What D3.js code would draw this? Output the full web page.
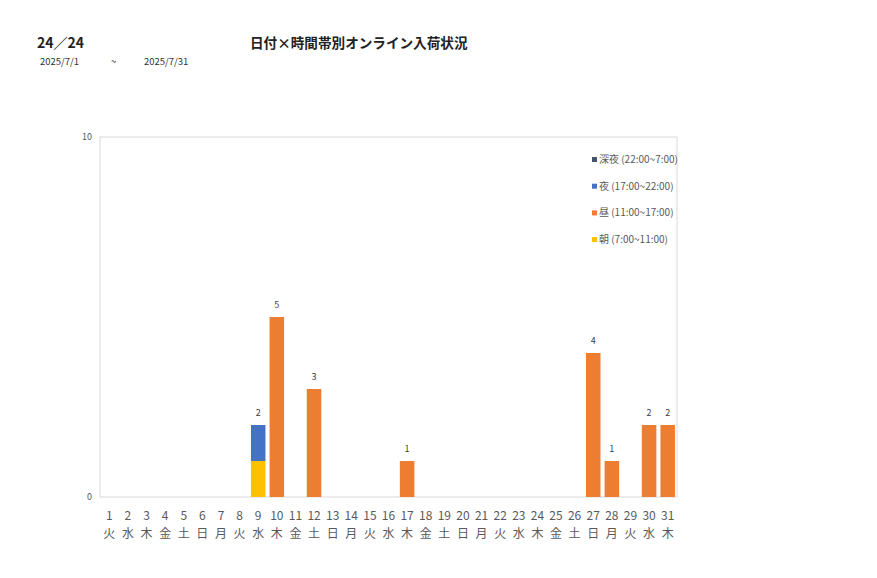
<!DOCTYPE html>
<html>
<head>
<meta charset="utf-8">
<script src="https://cdn.jsdelivr.net/npm/d3@7"></script>
<style>
  body { margin: 0; background: #fff; }
  svg { font-family: "Noto Sans CJK JP", "Noto Sans", sans-serif; }
</style>
</head>
<body>
<div id="chart"></div>
<script>
const width = 877;
const height = 578;

const days = d3.range(1, 32).map(String);
const weekdays = ["火","水","木","金","土","日","月","火","水","木","金","土","日","月","火","水","木","金","土","日","月","火","水","木","金","土","日","月","火","水","木"];

const seriesNames = ["朝", "昼", "夜", "深夜"];
const seriesLabels = ["朝 (7:00~11:00)", "昼 (11:00~17:00)", "夜 (17:00~22:00)", "深夜 (22:00~7:00)"];
const seriesColors = ["#FFC000", "#ED7D31", "#4472C4", "#44546A"];

// counts per day, one array per time slot
const morning = [0,0,0,0,0,0,0,0,1,0,0,0,0,0,0,0,0,0,0,0,0,0,0,0,0,0,0,0,0,0,0];
const daytime = [0,0,0,0,0,0,0,0,0,5,0,3,0,0,0,0,1,0,0,0,0,0,0,0,0,0,4,1,0,2,2];
const evening = [0,0,0,0,0,0,0,0,1,0,0,0,0,0,0,0,0,0,0,0,0,0,0,0,0,0,0,0,0,0,0];
const night   = [0,0,0,0,0,0,0,0,0,0,0,0,0,0,0,0,0,0,0,0,0,0,0,0,0,0,0,0,0,0,0];

const yTicks = [0, 10];

const table = days.map((d, i) => ({
  day: d, wd: weekdays[i],
  "朝": morning[i], "昼": daytime[i], "夜": evening[i], "深夜": night[i]
}));

const margin = { left: 100, right: 200, top: 137, bottom: 81 };

const x = d3.scaleBand()
    .domain(days)
    .range([margin.left, width - margin.right])
    .paddingInner(0.22)
    .paddingOuter(0.11);

const y = d3.scaleLinear()
    .domain([0, 10])
    .range([height - margin.bottom, margin.top]);

const svg = d3.select("#chart")
    .append("svg")
    .attr("width", width)
    .attr("height", height);

// titles
svg.append("text")
    .attr("x", 37).attr("y", 48)
    .attr("font-size", 14).attr("font-weight", "bold").attr("fill", "#222")
    .text("24／24");
svg.append("text")
    .attr("x", 250).attr("y", 48)
    .attr("font-size", 13.6).attr("font-weight", "bold").attr("fill", "#222")
    .text("日付×時間帯別オンライン入荷状況");

const dates = svg.append("g").attr("font-size", 9.5).attr("fill", "#333");
dates.append("text").attr("x", 40).attr("y", 65).text("2025/7/1");
dates.append("text").attr("x", 111).attr("y", 65).text("~");
dates.append("text").attr("x", 144).attr("y", 65).text("2025/7/31");

// plot frame
svg.append("rect")
    .attr("x", margin.left).attr("y", margin.top)
    .attr("width", width - margin.right - margin.left)
    .attr("height", height - margin.bottom - margin.top)
    .attr("fill", "none")
    .attr("stroke", "#d9d9d9");

// y tick labels
svg.append("g")
    .attr("font-size", 9).attr("fill", "#595959")
    .attr("text-anchor", "end")
    .selectAll("text")
    .data(yTicks)
    .join("text")
    .attr("x", margin.left - 8)
    .attr("y", d => y(d) + 3)
    .text(d => d);

// stacked bars
const stack = d3.stack().keys(seriesNames)(table);

svg.append("g")
    .selectAll("g")
    .data(stack)
    .join("g")
    .attr("fill", (d, i) => seriesColors[i])
    .selectAll("rect")
    .data(d => d.filter(s => s[1] - s[0] > 0))
    .join("rect")
    .attr("x", d => x(d.data.day))
    .attr("y", d => y(d[1]))
    .attr("width", x.bandwidth())
    .attr("height", d => y(d[0]) - y(d[1]));

// totals
const totals = table.map(d => ({ day: d.day, v: seriesNames.reduce((s, k) => s + d[k], 0) }))
    .filter(d => d.v > 0);

svg.append("g")
    .attr("font-size", 9).attr("fill", "#404040")
    .attr("text-anchor", "middle")
    .selectAll("text")
    .data(totals)
    .join("text")
    .attr("x", d => x(d.day) + x.bandwidth() / 2)
    .attr("y", d => y(d.v) - 9)
    .text(d => d.v);

// x labels: day and weekday
const xl = svg.append("g")
    .attr("font-size", 12).attr("fill", "#595959")
    .attr("text-anchor", "middle");

xl.selectAll("text.day")
    .data(table)
    .join("text")
    .attr("class", "day")
    .attr("x", d => x(d.day) + x.bandwidth() / 2)
    .attr("y", 520)
    .text(d => d.day);

xl.selectAll("text.wd")
    .data(table)
    .join("text")
    .attr("class", "wd")
    .attr("x", d => x(d.day) + x.bandwidth() / 2)
    .attr("y", 538)
    .text(d => d.wd);

// legend, reversed order like the stack
const legendOrder = [3, 2, 1, 0];
const legend = svg.append("g")
    .attr("font-size", 10).attr("fill", "#595959")
    .selectAll("g")
    .data(legendOrder)
    .join("g")
    .attr("transform", (d, i) => `translate(592,${163 + i * 26.7})`);

legend.append("rect")
    .attr("x", 0).attr("y", -6)
    .attr("width", 5).attr("height", 5)
    .attr("fill", d => seriesColors[d]);

legend.append("text")
    .attr("x", 7).attr("y", 0)
    .text(d => seriesLabels[d]);
</script>
</body>
</html>
